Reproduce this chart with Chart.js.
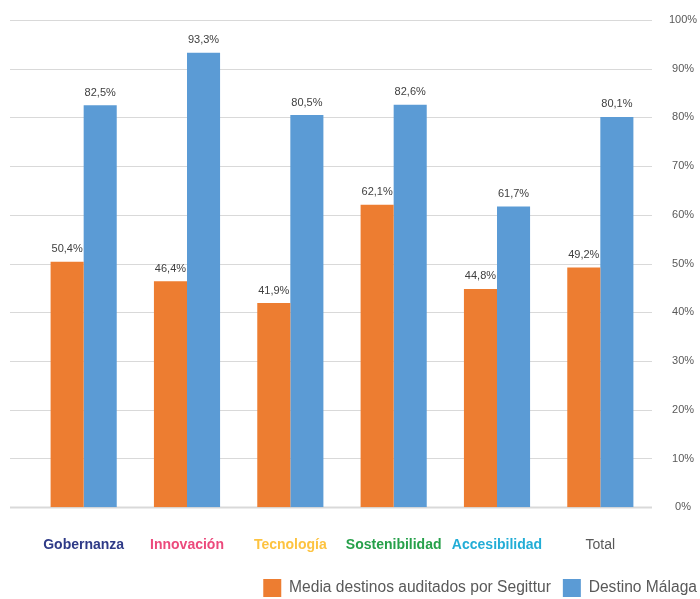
<!DOCTYPE html>
<html>
<head>
<meta charset="utf-8">
<script src="https://cdn.jsdelivr.net/npm/chart.js@4"></script>
<style>
    body { margin: 0; background: #fff; }
    #wrap { width: 700px; height: 599px; position: relative; }
</style>
</head>
<body>
<div id="wrap"><canvas id="bar-chart"></canvas></div>
<script>
const categories = ['Gobernanza', 'Innovación', 'Tecnología', 'Sostenibilidad', 'Accesibilidad', 'Total'];
const categoryColors = ['#2e3a87', '#ec4a7c', '#fdc340', '#26a04a', '#22add6', '#595959'];
const seriesNames = ['Media destinos auditados por Segittur', 'Destino Málaga'];
const mediaSegittur = [50.4, 46.4, 41.9, 62.1, 44.8, 49.2];
const destinoMalaga = [82.5, 93.3, 80.5, 82.6, 61.7, 80.1];

const FONT = '"Liberation Sans", Arial, sans-serif';

// horizontal grid lines, drawn a bit wider than the category area
const gridLines = {
    id: 'gridLines',
    beforeDatasetsDraw(chart) {
        const ctx = chart.ctx;
        const y = chart.scales.y;
        ctx.save();
        for (let t of y.ticks) {
            const py = Math.round(y.getPixelForValue(t.value)) + 0.5;
            ctx.strokeStyle = '#d9d9d9';
            ctx.lineWidth = t.value === 0 ? 2 : 1;
            ctx.beginPath();
            ctx.moveTo(10, py);
            ctx.lineTo(chart.chartArea.right, py);
            ctx.stroke();
        }
        ctx.restore();
    }
};

// value labels above each bar
const valueLabels = {
    id: 'valueLabels',
    afterDatasetsDraw(chart) {
        const ctx = chart.ctx;
        ctx.save();
        ctx.font = '11px ' + FONT;
        ctx.fillStyle = '#404040';
        ctx.textAlign = 'center';
        ctx.textBaseline = 'bottom';
        chart.data.datasets.forEach((ds, i) => {
            chart.getDatasetMeta(i).data.forEach((bar, j) => {
                const txt = ds.data[j].toFixed(1).replace('.', ',') + '%';
                ctx.fillText(txt, bar.x, bar.y - 7);
            });
        });
        ctx.restore();
    }
};

// nudge the legend towards the bottom right corner
const legendShift = {
    id: 'legendShift',
    afterLayout(chart) {
        const lg = chart.legend;
        lg.left += 9;
        lg.right += 9;
        lg.top += 8;
        lg.bottom += 8;
    }
};

new Chart(document.getElementById('bar-chart'), {
    type: 'bar',
    data: {
        labels: categories,
        datasets: [{
            label: seriesNames[0],
            backgroundColor: '#ed7d31',
            data: mediaSegittur
        }, {
            label: seriesNames[1],
            backgroundColor: '#5b9bd5',
            data: destinoMalaga
        }]
    },
    options: {
        responsive: true,
        maintainAspectRatio: false,
        animation: false,
        categoryPercentage: 0.64,
        barPercentage: 1,
        layout: { padding: { left: 32, top: 20, right: 0, bottom: 0 } },
        plugins: {
            tooltip: { enabled: false },
            legend: {
                position: 'bottom',
                align: 'end',
                labels: {
                    boxWidth: 18,
                    boxHeight: 18,
                    padding: 12,
                    color: '#595959',
                    font: { family: FONT, size: 15.6 }
                }
            }
        },
        scales: {
            x: {
                grid: { display: false },
                border: { display: false },
                afterFit(scale) { scale.height -= 17; },
                ticks: {
                    padding: 22,
                    autoSkip: false,
                    maxRotation: 0,
                    color: (c) => categoryColors[c.index],
                    font: (c) => ({ family: FONT, size: 14, weight: c.index === 5 ? 'normal' : 'bold' })
                }
            },
            y: {
                position: 'right',
                min: 0,
                max: 100,
                grid: { display: false },
                border: { display: false },
                afterFit(scale) { scale.width = 48; },
                ticks: {
                    stepSize: 10,
                    padding: 9,
                    crossAlign: 'center',
                    color: '#595959',
                    font: { family: FONT, size: 11 },
                    callback: (v) => v + '%'
                }
            }
        }
    },
    plugins: [gridLines, valueLabels, legendShift]
});
</script>
</body>
</html>
